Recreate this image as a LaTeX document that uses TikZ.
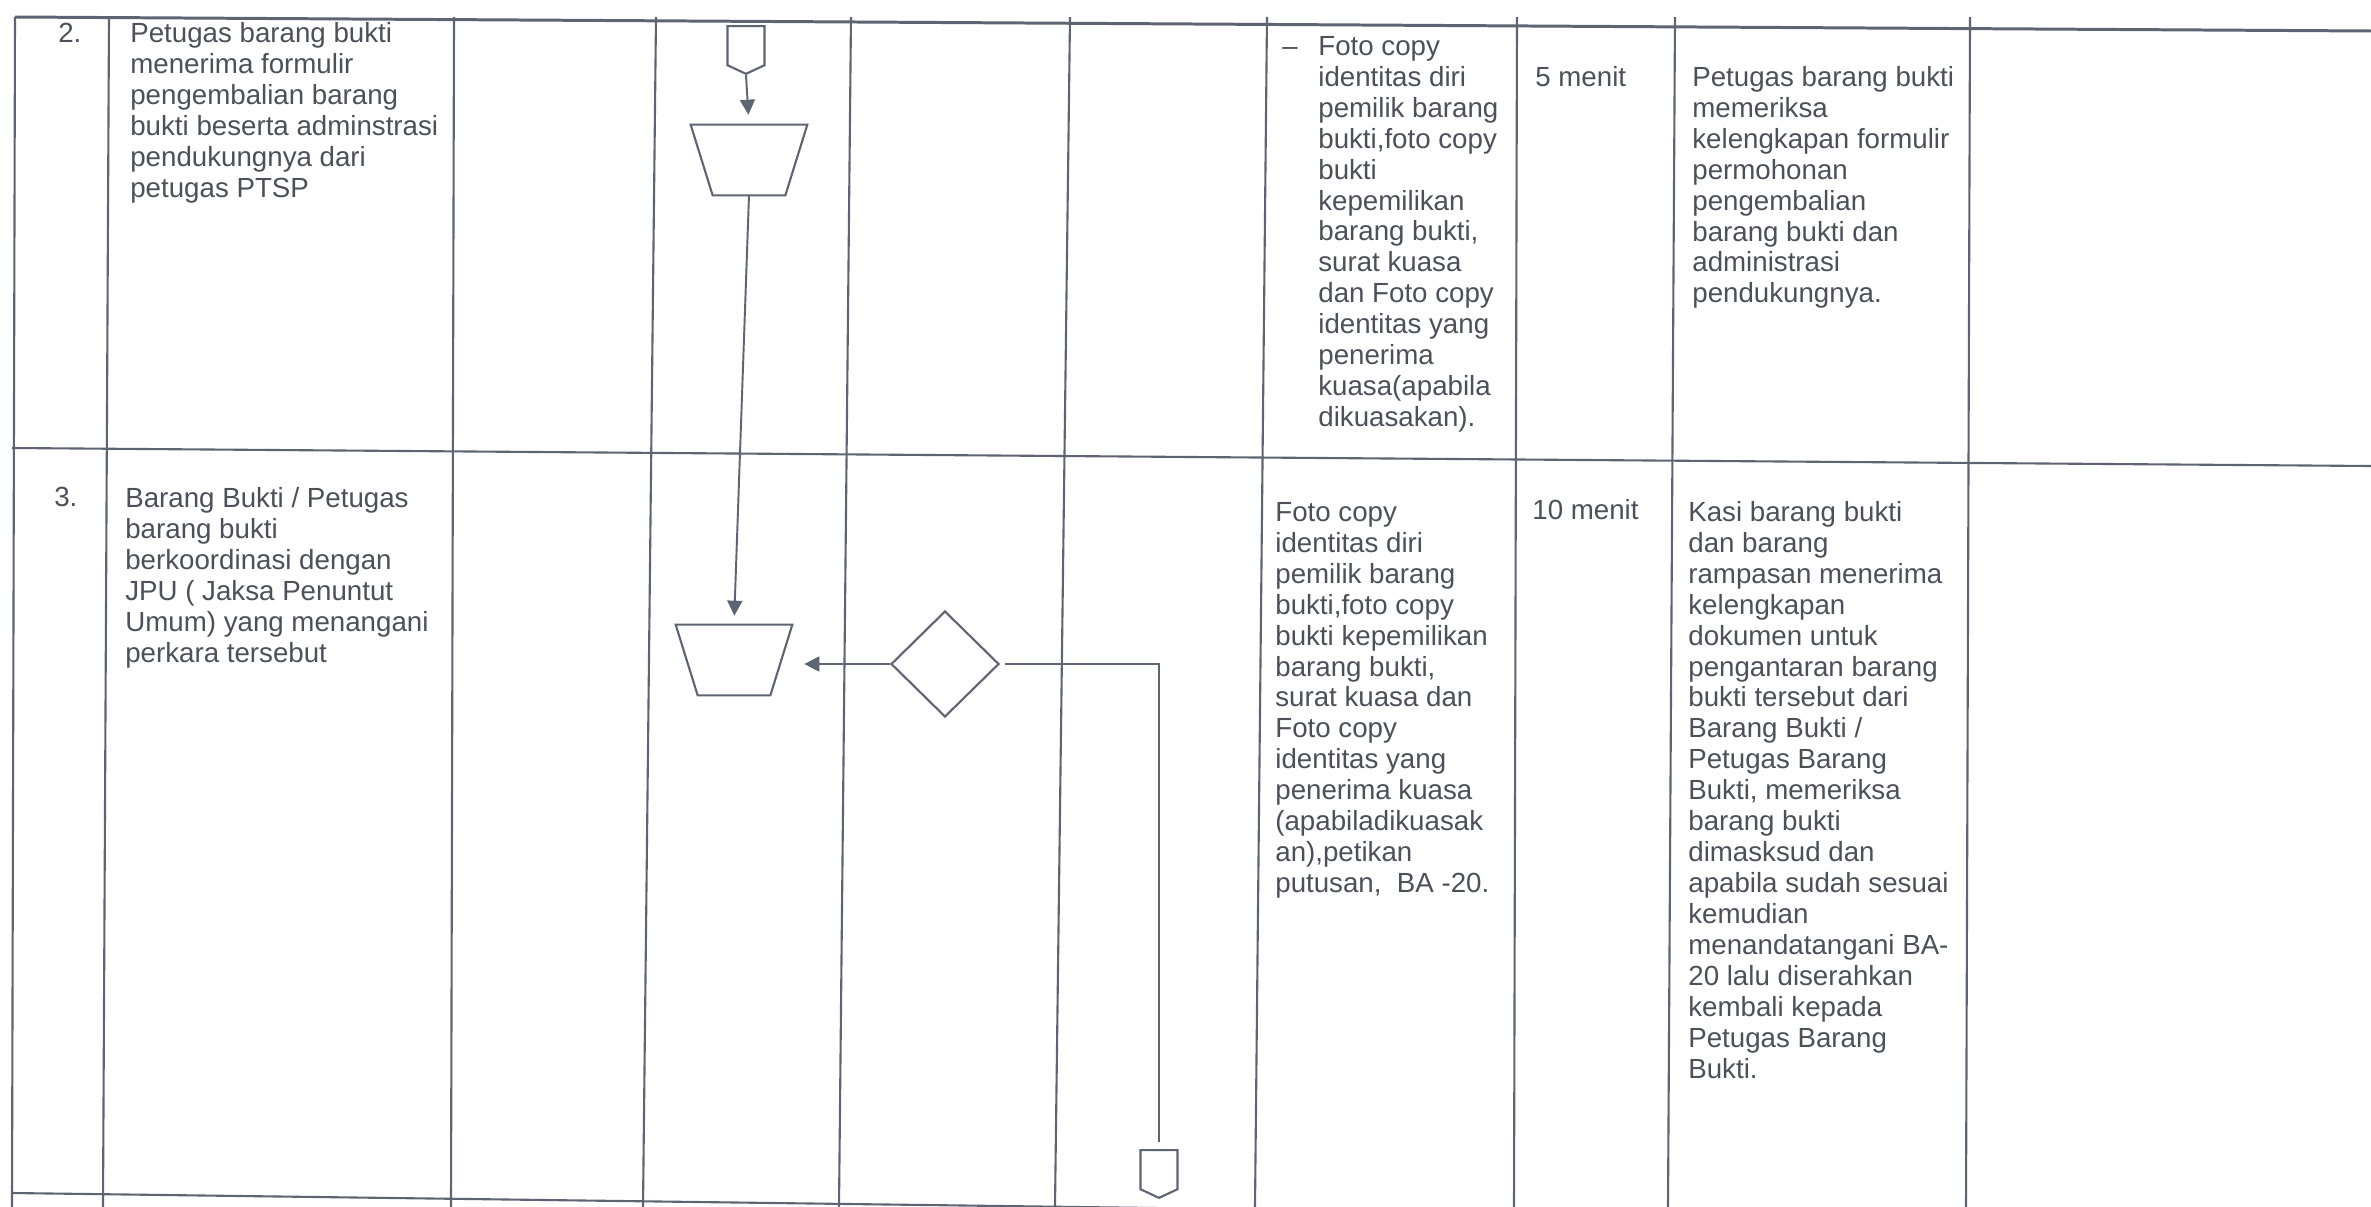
\documentclass[tikz,border=0pt]{standalone}
\usepackage{fontspec}
\setmainfont{Liberation Sans}
\usetikzlibrary{shapes.geometric,shapes.symbols,arrows.meta}
\definecolor{linec}{HTML}{5E6472}
\definecolor{txtc}{HTML}{4E5059}
\newcommand\cellfont{\fontsize{15.76pt}{17.6pt}\selectfont}
\begin{document}
\begin{tikzpicture}[x=0.02cm,y=-0.02cm,
  grid/.style={draw=linec, line width=1.2pt},
  cell/.style={anchor=north west, inner sep=0pt, align=left, font=\cellfont, text=txtc},
  shp/.style={draw=linec, line width=1.2pt, inner sep=1pt},
  trapbox/.style={inner sep=0pt, minimum width=2.32cm, minimum height=1.4cm},
  trapline/.style={draw=linec, line width=1.2pt},
  dec/.style={shp, diamond, minimum width=2.16cm, minimum height=2.12cm},
  offpage/.style={shp, signal, signal to=south, signal from=nowhere, signal pointer angle=130,
    minimum width=0.74cm, minimum height=0.8cm},
  flow/.style={draw=linec, line width=1.1pt, -{Triangle[length=0.3cm,width=0.3cm]}},
  link/.style={draw=linec, line width=1.1pt}]
\useasboundingbox (0,0) rectangle (2371,1207);
\clip (0,0) rectangle (2371,1207);
\fill[white] (0,0) rectangle (2371,1207);

% table grid
\draw[grid, line width=1.7pt] (15,17) -- (2371,31);
\draw[grid] (12,448) -- (2371,466);
\draw[grid] (12,1193) -- (2371,1224);
\foreach \xt/\xb in {15/12,109/103,454/451,656/643,851/839,1070/1055,1267/1255,1517/1514,1675/1668,1970/1966}
  \draw[grid] (\xt,17) -- (\xb,1207);

% row 2 texts
\node[cell] (n2) at (58,22) {\vphantom{b}2.};
\node[cell] (r2a) at (130,22) {Petugas barang bukti\\menerima formulir\\pengembalian barang\\bukti beserta adminstrasi\\pendukungnya dari\\petugas PTSP};
\node[cell] (r2fd) at (1282,36) {\vphantom{F}–};
\node[cell] (r2f) at (1318,36) {Foto copy\\identitas diri\\pemilik barang\\bukti,foto copy\\bukti\\kepemilikan\\barang bukti,\\surat kuasa\\dan Foto copy\\identitas yang\\penerima\\kuasa(apabila\\dikuasakan).};
\node[cell] (r2t) at (1535,66) {\vphantom{b}5 menit};
\node[cell] (r2k) at (1692,66) {Petugas barang bukti\\memeriksa\\kelengkapan formulir\\permohonan\\pengembalian\\barang bukti dan\\administrasi\\pendukungnya.};

% row 3 texts
\node[cell] (n3) at (54,487) {\vphantom{B}3.};
\node[cell] (r3a) at (125,487) {Barang Bukti / Petugas\\barang bukti\\berkoordinasi dengan\\JPU ( Jaksa Penuntut\\Umum) yang menangani\\perkara tersebut};
\node[cell] (r3f) at (1275,502) {Foto copy\\identitas diri\\pemilik barang\\bukti,foto copy\\bukti kepemilikan\\barang bukti,\\surat kuasa dan\\Foto copy\\identitas yang\\penerima kuasa\\(apabiladikuasak\\an),petikan\\putusan,\ \ BA -20.};
\node[cell] (r3t) at (1532,499) {\vphantom{b}10 menit};
\node[cell] (r3k) at (1688,501) {Kasi barang bukti\\dan barang\\rampasan menerima\\kelengkapan\\dokumen untuk\\pengantaran barang\\bukti tersebut dari\\Barang Bukti /\\Petugas Barang\\Bukti, memeriksa\\barang bukti\\dimasksud dan\\apabila sudah sesuai\\kemudian\\menandatangani BA-\\20 lalu diserahkan\\kembali kepada\\Petugas Barang\\Bukti.};

% flow shapes
\node[offpage, anchor=north] (s1) at (746,25) {};
\node[trapbox] (t1) at (749,160) {};
\draw[trapline] (t1.north west) -- (t1.north east) -- ([xshift=-0.44cm]t1.south east) -- ([xshift=0.44cm]t1.south west) -- cycle;
\node[trapbox] (t2) at (734,660) {};
\draw[trapline] (t2.north west) -- (t2.north east) -- ([xshift=-0.44cm]t2.south east) -- ([xshift=0.44cm]t2.south west) -- cycle;
\node[dec] (d1) at (945,664) {};
\node[offpage, anchor=north] (e1) at (1159,1149) {};

% connectors
\draw[flow, shorten >=0.2cm] (s1.south) -- (t1.north);
\draw[flow, shorten >=0.18cm] (t1.south) -- (t2.north);
\draw[flow, shorten >=0.24cm] (d1.west) -- (d1.west -| t2.east);
\draw[link, shorten <=0.1cm, shorten >=0.15cm] (d1.east) -| (e1.north);
\end{tikzpicture}
\end{document}
